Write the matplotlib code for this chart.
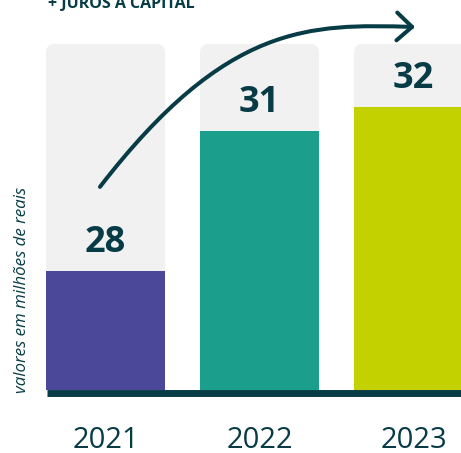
import matplotlib.pyplot as plt
from matplotlib.patches import FancyBboxPatch, FancyArrowPatch
from matplotlib.path import Path

plt.rcParams['font.family'] = ['Open Sans', 'DejaVu Sans']

anos = ['2021', '2022', '2023']
valores = [28, 31, 32]
# altura das barras em % do painel cinza (eixo truncado no original)
alturas = [34.5, 74.9, 81.8]
cores = ['#4b4899', '#1c9e8c', '#c4d100']

escuro = '#073c46'
cinza = '#f1f1f1'
largura = 0.773

fig = plt.figure(figsize=(4.61, 4.53), dpi=100)
ax = fig.add_axes([0, 0, 1, 1])
ax.set_xlim(-0.685, 2.308)
ax.set_ylim(-18.2, 112.7)
ax.axis('off')

x = list(range(len(anos)))
for i in x:
    painel = FancyBboxPatch((i - largura/2, 0), largura, 100,
                            boxstyle='round,pad=0,rounding_size=0.058',
                            mutation_aspect=44.5, fc=cinza, ec='none', zorder=1)
    ax.add_patch(painel)

ax.bar(x, alturas, width=largura, color=cores, zorder=2)

for i, v, h in zip(x, valores, alturas):
    ax.text(i, h + 8, str(v), ha='center', va='center', fontsize=26,
            fontweight='bold', color=escuro, zorder=4)

for i, a in zip(x, anos):
    ax.text(i, -14.45, a, ha='center', va='center', fontsize=21, color=escuro)

# linha de base
ax.hlines(-1.0, -0.38, 2.308, color=escuro, lw=5, capstyle='butt', zorder=3)

ax.text(-0.542, 28.9, 'valores em milhões de reais', rotation=90,
        ha='center', va='center', fontsize=12.2, style='italic', color=escuro)

ax.text(-0.376, 110.4, '+ JUROS A CAPITAL', ha='left', va='baseline',
        fontsize=11.5, fontweight='bold', color=escuro)

# seta curva
verts = [(-0.036, 58.7), (0.786, 106.1), (1.328, 105.8), (2.01, 104.9)]
codes = [Path.MOVETO, Path.CURVE4, Path.CURVE4, Path.CURVE4]
seta = FancyArrowPatch(path=Path(verts, codes),
                       arrowstyle='->,head_length=11,head_width=10',
                       color=escuro, lw=2.9, zorder=5, clip_on=False)
ax.add_patch(seta)

fig.savefig('out.png', dpi=100)
